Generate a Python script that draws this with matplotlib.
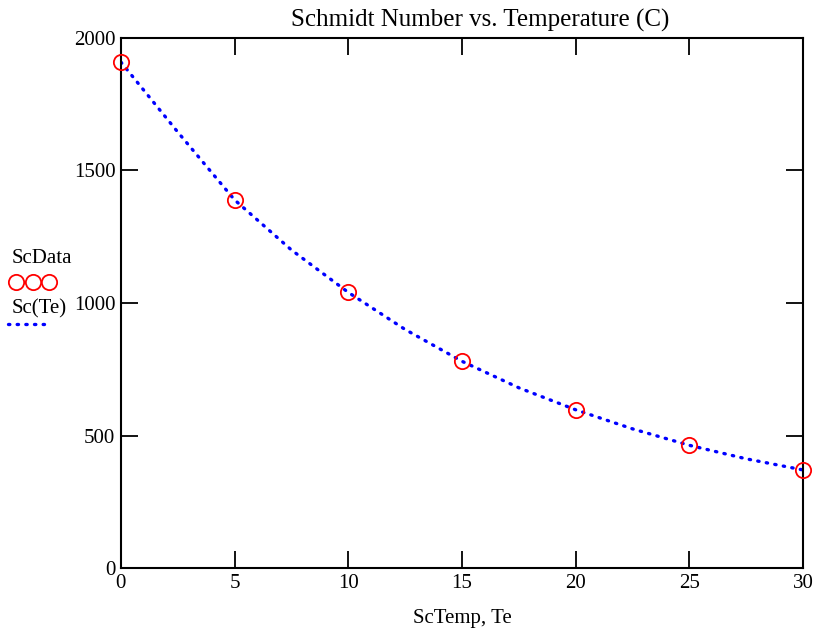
import matplotlib.pyplot as plt
from matplotlib.lines import Line2D

plt.rcParams['font.family'] = ['Liberation Serif', 'DejaVu Serif']

# Data
sc_temp = [0, 5, 10, 15, 20, 25, 30]
sc_data = [1909, 1389, 1042, 781, 596, 464, 370]

# fitted curve Sc(Te)
te = [0, 2.5, 5, 7.5, 10, 12.5, 15, 17.5, 20, 22.5, 25, 27.5, 30]
sc_te = [1909, 1645, 1389, 1200, 1040, 900, 780, 680, 597, 525, 463, 412, 370]

dots = (0, (0.4, 2.2))

fig = plt.figure(figsize=(8.17, 6.30), dpi=100)
ax = fig.add_axes([0.148, 0.0984, 0.835, 0.8413])

ax.plot(te, sc_te, color='blue', lw=2.4, linestyle=dots,
        dash_capstyle='round', zorder=2)
ax.plot(sc_temp, sc_data, 'o', mfc='none', mec='red', ms=11, mew=1.3,
        clip_on=False, zorder=3)

ax.set_xlim(0, 30)
ax.set_ylim(0, 2000)
ax.set_xticks([0, 5, 10, 15, 20, 25, 30])
ax.set_yticks([0, 500, 1000, 1500, 2000])
ax.tick_params(direction='in', length=12, width=1.3, top=True, right=True,
               labelsize=15, pad=4)
ax.tick_params(axis='y', pad=4)
for s in ax.spines.values():
    s.set_linewidth(1.5)

ax.set_title('Schmidt Number vs. Temperature (C)', fontsize=18, pad=8, x=0.526)
ax.set_xlabel('ScTemp, Te', fontsize=15, labelpad=12)

# legend to the left of the plot
fig.text(0.014, 0.583, 'ScData', fontsize=15)
fig.add_artist(Line2D([0.020, 0.040, 0.060], [0.552] * 3, ls='none', marker='o',
                      mfc='none', mec='red', ms=11, mew=1.3,
                      transform=fig.transFigure))
fig.text(0.014, 0.503, 'Sc(Te)', fontsize=15)
fig.add_artist(Line2D([0.010, 0.060], [0.485] * 2, color='blue', lw=2.4,
                      linestyle=dots, dash_capstyle='round',
                      transform=fig.transFigure))

fig.savefig('out.png', dpi=100)
